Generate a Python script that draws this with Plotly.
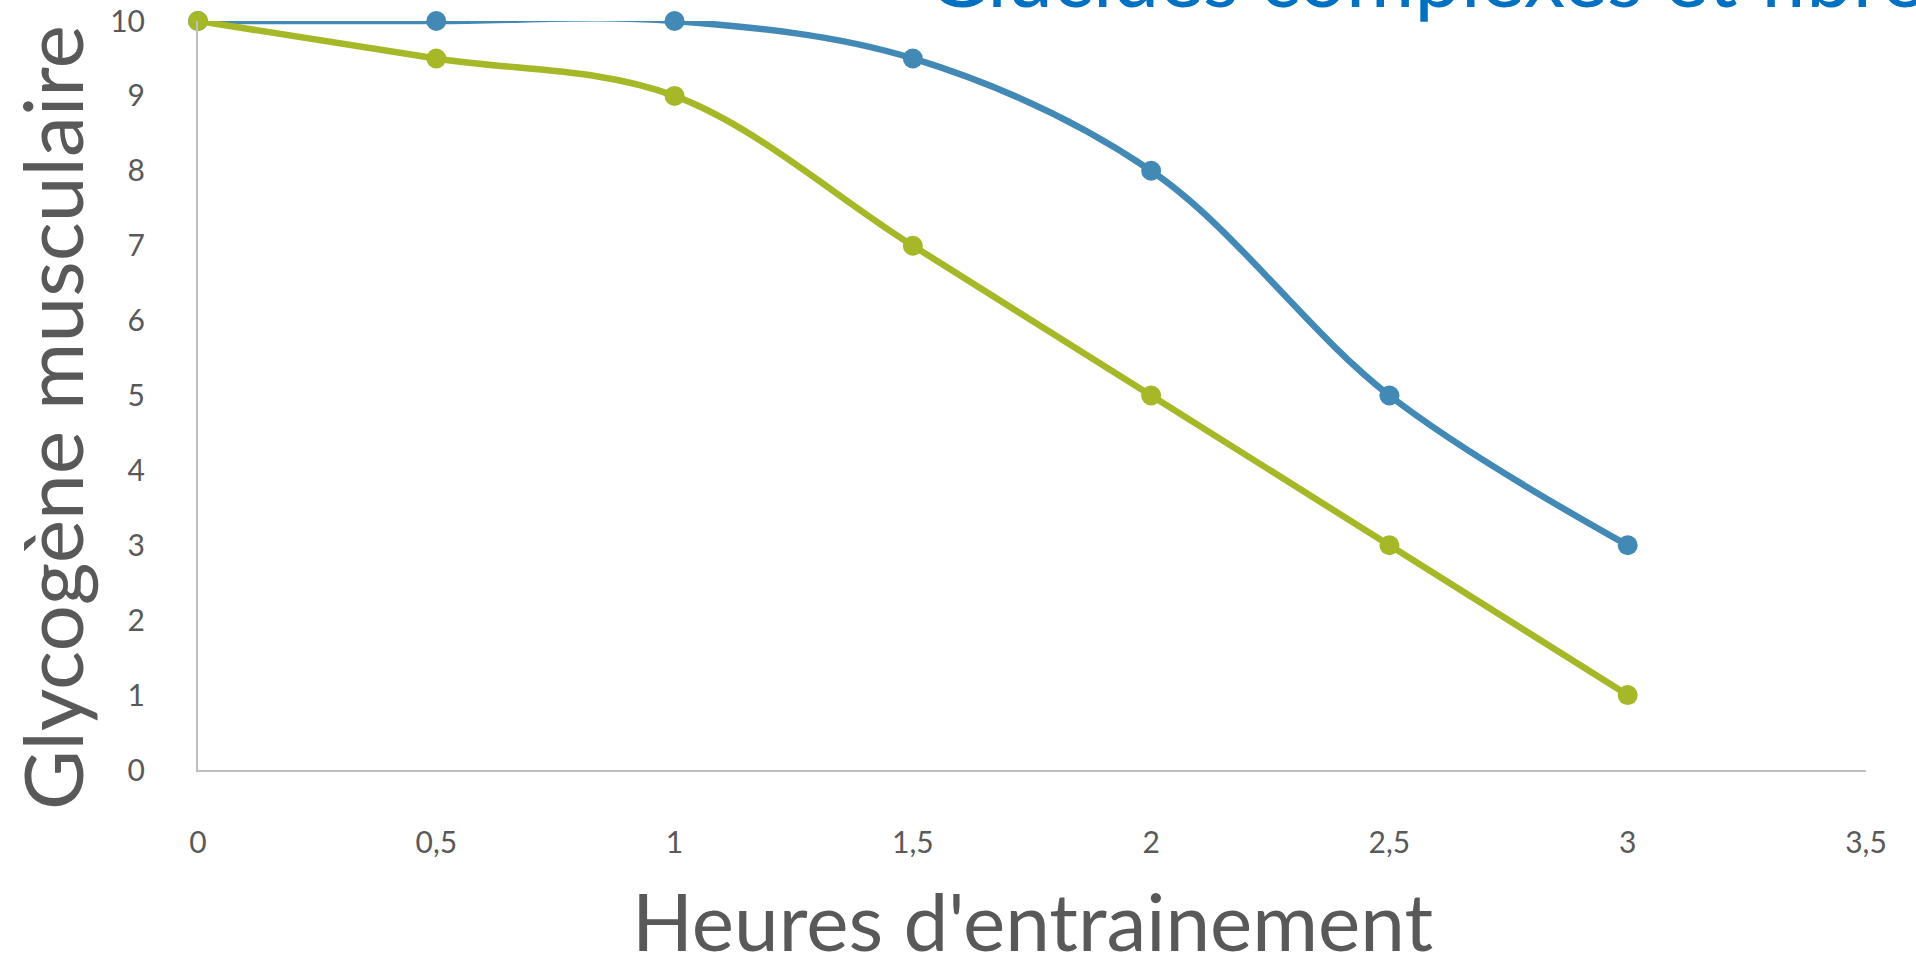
import plotly.graph_objects as go

hours = [0, 0.5, 1, 1.5, 2, 2.5, 3]
blue_vals = [10, 10, 10, 9.5, 8, 5, 3]
green_vals = [10, 9.5, 9, 7, 5, 3, 1]
x_ticks = [0, 0.5, 1, 1.5, 2, 2.5, 3, 3.5]
y_ticks = [0, 1, 2, 3, 4, 5, 6, 7, 8, 9, 10]

BLUE = "#428AB5"
GREEN = "#A6B827"
GREY_TXT = "#595959"
AXIS = "#BFBFBF"
FONT = "Lato"

fig = go.Figure()
fig.add_trace(go.Scatter(
    x=hours, y=blue_vals, mode="lines+markers",
    line=dict(color=BLUE, width=6.5, shape="spline", smoothing=1),
    marker=dict(color=BLUE, size=20), cliponaxis=False, showlegend=False))
fig.add_trace(go.Scatter(
    x=hours, y=green_vals, mode="lines+markers",
    line=dict(color=GREEN, width=6.5, shape="spline", smoothing=1),
    marker=dict(color=GREEN, size=20), cliponaxis=False, showlegend=False))

fig.update_layout(
    width=1916, height=957,
    margin=dict(l=198, r=50, t=21, b=187, autoexpand=False),
    paper_bgcolor="white", plot_bgcolor="white",
    separators=", ",
    font=dict(family=FONT, color=GREY_TXT),
    xaxis=dict(range=[0, 3.5], tickvals=x_ticks, showgrid=False, zeroline=False,
               showline=True, linecolor=AXIS, linewidth=2, automargin=False,
               tickfont=dict(size=30, color=GREY_TXT, family=FONT),
               ticklabelstandoff=45),
    yaxis=dict(range=[0, 10], tickvals=y_ticks, showgrid=False, zeroline=False,
               showline=True, linecolor=AXIS, linewidth=2, automargin=False,
               tickfont=dict(size=30, color=GREY_TXT, family=FONT),
               ticklabelstandoff=45),
    annotations=[
        dict(text="Glucides complexes et fibres", xref="paper", yref="paper",
             x=(925 - 198) / 1668, y=1, xanchor="left", yanchor="bottom", yshift=-6,
             showarrow=False, font=dict(size=83, color="#0070C0", family=FONT)),
        dict(text="Heures d'entrainement", xref="paper", yref="paper",
             x=0.5, y=(770 - 920) / 749, xanchor="center", yanchor="middle",
             showarrow=False, font=dict(size=80, color=GREY_TXT, family=FONT)),
        dict(text="Glycogène musculaire", xref="paper", yref="paper", textangle=-90,
             x=(51 - 198) / 1668, y=(770 - 418) / 749, xanchor="center", yanchor="middle",
             showarrow=False, font=dict(size=82, color=GREY_TXT, family=FONT)),
    ],
)

fig.write_html("out.html")
